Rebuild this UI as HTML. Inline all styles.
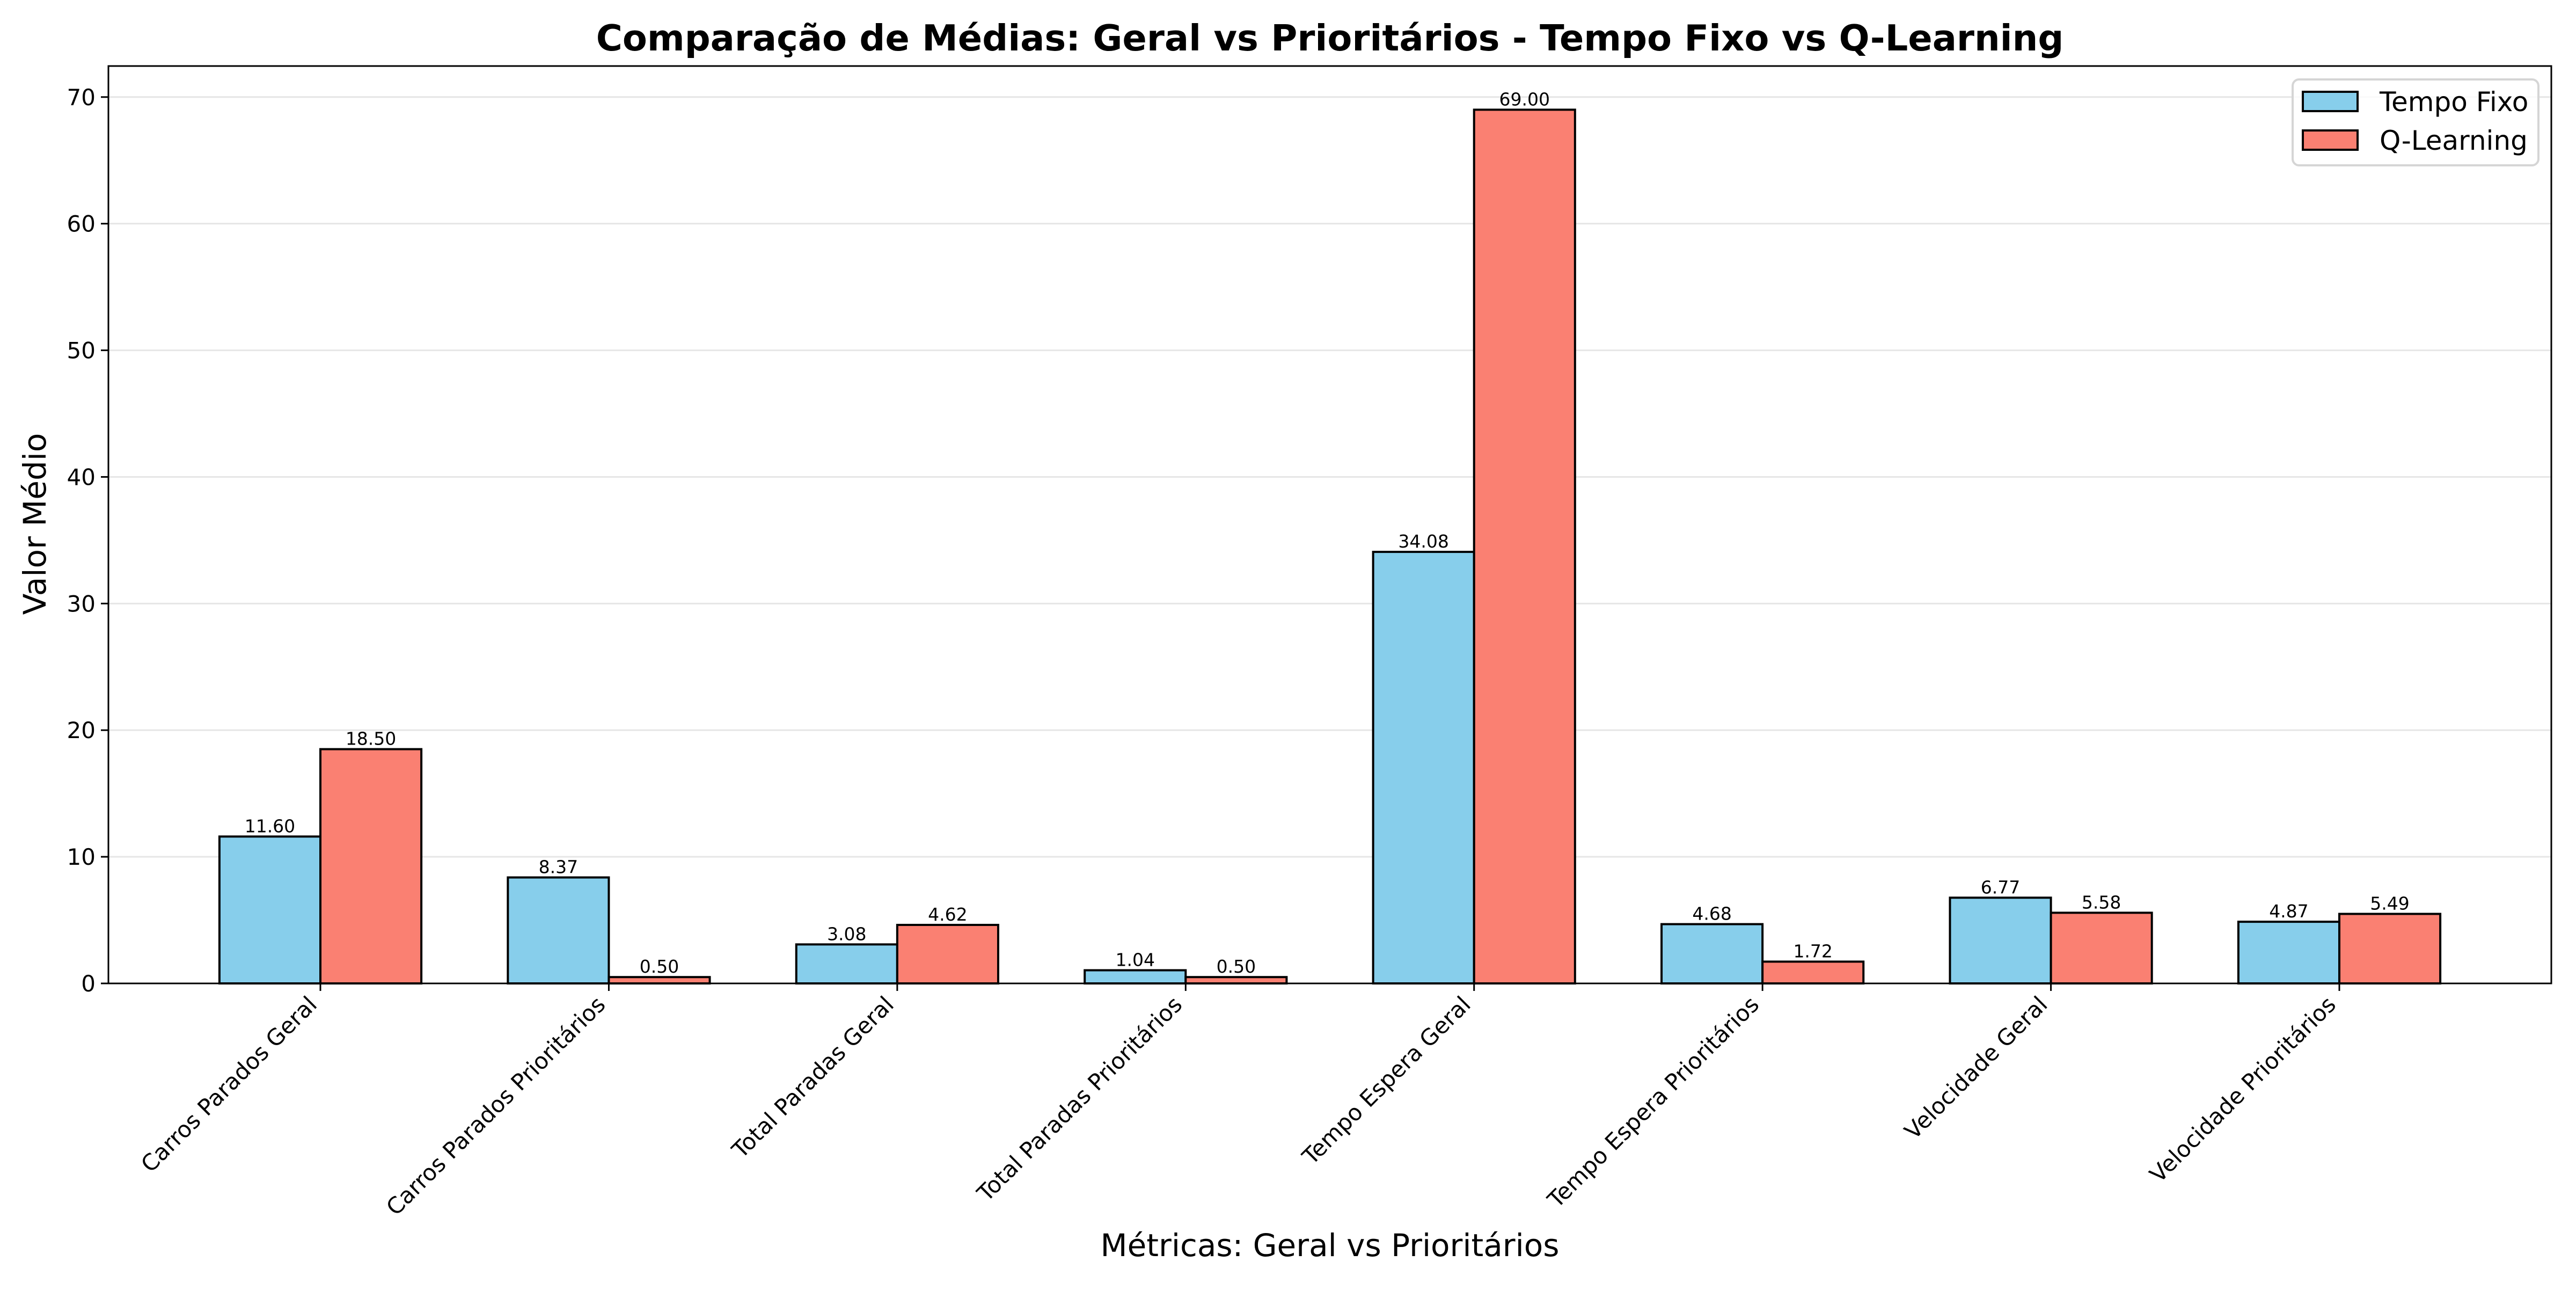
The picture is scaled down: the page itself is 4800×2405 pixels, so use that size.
<!DOCTYPE html>
<html><head><meta charset="utf-8"><style>
body{margin:0;background:#fff}
svg text{font-family:"DejaVu Sans","Liberation Sans",sans-serif}
</style></head><body>
<svg id="chart" width="4800" height="2400" viewBox="0 0 4800 2400" xmlns="http://www.w3.org/2000/svg">
<rect width="4800" height="2400" fill="#fff"/>
<text x="2478" y="94" font-size="67" font-weight="bold" text-anchor="middle">Comparação de Médias: Geral vs Prioritários - Tempo Fixo vs Q-Learning</text>
<g id="grid"></g>
<g id="bars"></g>
<g id="axes"></g>
<text x="2478" y="2340" font-size="58" text-anchor="middle">Métricas: Geral vs Prioritários</text>
<text transform="translate(85,976) rotate(-90)" font-size="58" text-anchor="middle">Valor Médio</text>
<g>
<rect x="4272" y="148" width="458" height="160" rx="12" fill="#fff" fill-opacity="0.8" stroke="#d5d5d5" stroke-width="4"/>
<g>
<rect x="4291" y="171" width="102" height="36" fill="#87CEEB" stroke="#000" stroke-width="4"/>
<text x="4434" y="207" font-size="50">Tempo Fixo</text></g>
<g>
<rect x="4291" y="243" width="102" height="36" fill="#FA8072" stroke="#000" stroke-width="4"/>
<text x="4434" y="279" font-size="50">Q-Learning</text></g>
</g>
</svg>
<script>
const categories=["Carros Parados Geral","Carros Parados Prioritários","Total Paradas Geral","Total Paradas Prioritários","Tempo Espera Geral","Tempo Espera Prioritários","Velocidade Geral","Velocidade Prioritários"];
const tempoFixo=[11.60,8.37,3.08,1.04,34.08,4.68,6.77,4.87];
const qLearning=[18.50,0.50,4.62,0.50,69.00,1.72,5.58,5.49];
const yTicks=[0,10,20,30,40,50,60,70];

const NS="http://www.w3.org/2000/svg";
const L=202,R=4754,T=123,B=1832;
const yMin=0,yMax=72.45;
const xMin=-0.735,xMax=categories.length-1+0.735;
const bw=0.35;
function xs(v){return L+(v-xMin)/(xMax-xMin)*(R-L);}
function ys(v){return B-(v-yMin)/(yMax-yMin)*(B-T);}
function mk(tag,attrs,parent){const e=document.createElementNS(NS,tag);for(const k in attrs)e.setAttribute(k,attrs[k]);parent.appendChild(e);return e;}
const grid=document.getElementById('grid'),bars=document.getElementById('bars'),axes=document.getElementById('axes');
yTicks.forEach(t=>{
  const y=ys(t);
  const g=mk('line',{x1:L,x2:R,y1:y,y2:y,stroke:'#e6e6e6','stroke-width':3},grid);
  
  
  const tk=mk('line',{x1:L-14,x2:L,y1:y,y2:y,stroke:'#000','stroke-width':3},axes);
  
  
  const tx=mk('text',{x:L-24,y:y+15,'font-size':42,'text-anchor':'end'},axes);
  tx.textContent=t;
  
  
});
function drawSeries(vals,off,color,name){
  vals.forEach((v,i)=>{
    const x0=xs(i+off-bw/2),x1=xs(i+off+bw/2);
    const r=mk('rect',{x:x0,y:ys(v),width:x1-x0,height:ys(0)-ys(v),fill:color,stroke:'#000','stroke-width':4},bars);
    
    
    const t=mk('text',{x:(x0+x1)/2,y:ys(v)-8,'font-size':33,'text-anchor':'middle'},bars);
    t.textContent=v.toFixed(2);
    
    
  });
}
drawSeries(tempoFixo,-bw/2,'#87CEEB','tempo-fixo');
drawSeries(qLearning,bw/2,'#FA8072','q-learning');
categories.forEach((c,i)=>{
  const x=xs(i);
  const tk=mk('line',{x1:x,x2:x,y1:B,y2:B+14,stroke:'#000','stroke-width':3},axes);
  
  
  const t=mk('text',{transform:`translate(${x-4},${B+42}) rotate(-45)`,'font-size':42,'text-anchor':'end'},axes);
  t.textContent=c;
  
  
});
const fr=mk('rect',{x:L,y:T,width:R-L,height:B-T,fill:'none',stroke:'#000','stroke-width':3},axes);


</script>
</body></html>
